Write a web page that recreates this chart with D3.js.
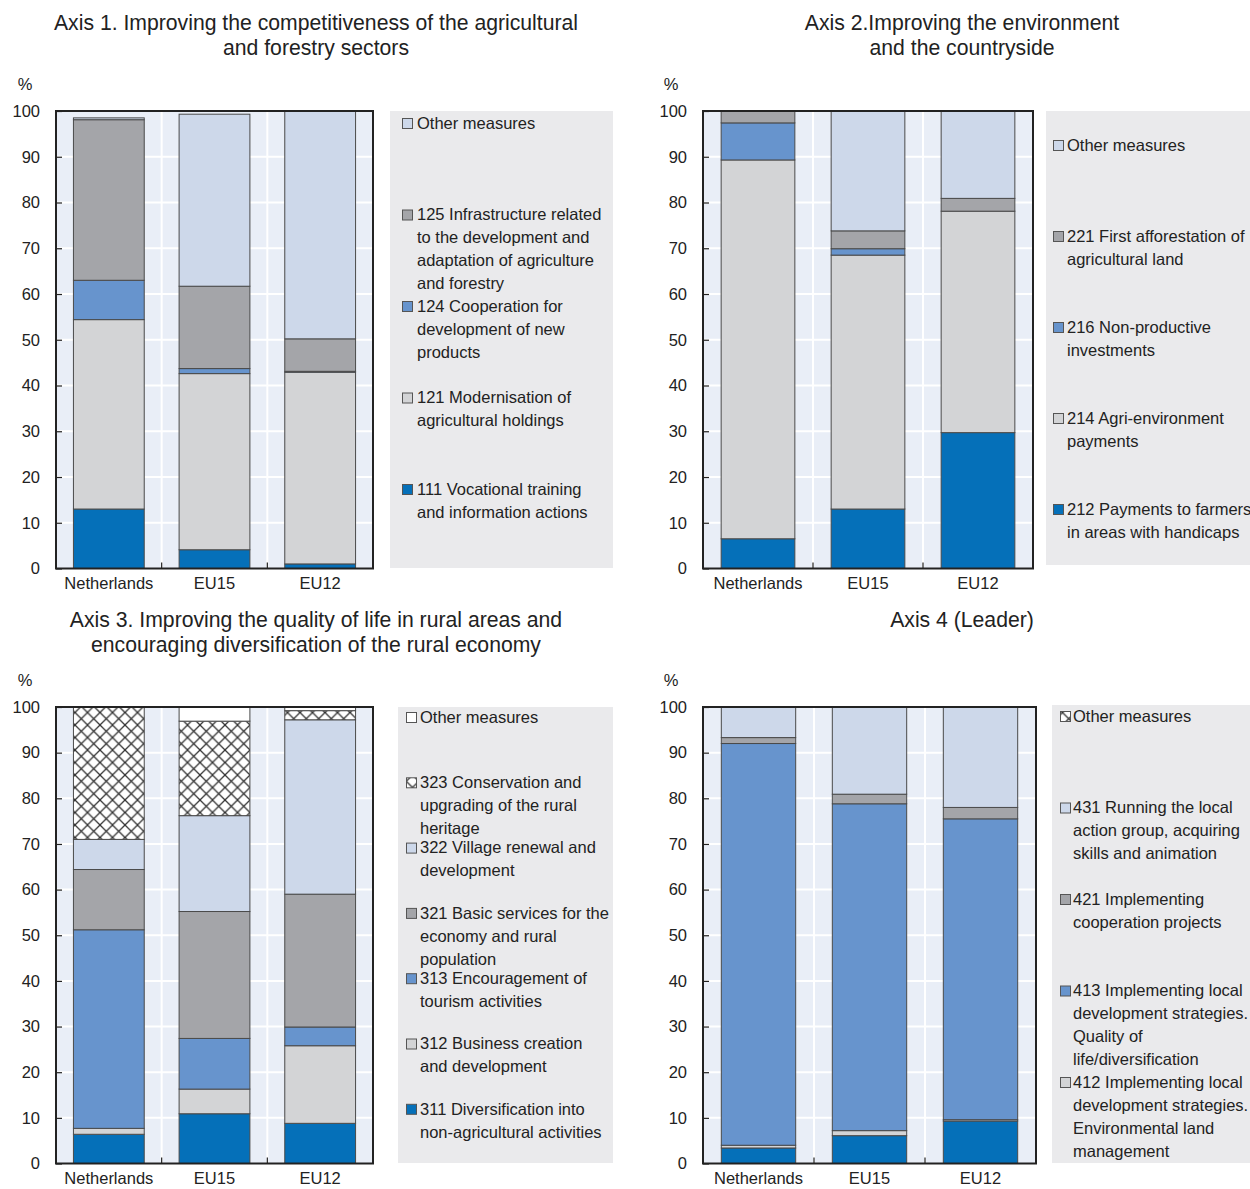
<!DOCTYPE html>
<html><head><meta charset="utf-8">
<script src="https://cdn.jsdelivr.net/npm/d3@7"></script>
<style>
html,body{margin:0;padding:0;background:#fff;}
svg{display:block;font-family:"Liberation Sans",Arial,sans-serif;}
</style></head>
<body>
<svg id="chart" width="1250" height="1189"></svg>
<script>
// ---------- DATA ----------
const categories = ["Netherlands", "EU15", "EU12"];
const yTicks = [0, 10, 20, 30, 40, 50, 60, 70, 80, 90, 100];

// Axis 1 (stack order bottom -> top)
const axis1Names = ["111 Vocational training and information actions", "121 Modernisation of agricultural holdings",
  "124 Cooperation for development of new products", "125 Infrastructure related to the development and adaptation of agriculture and forestry", "Other measures"];
const axis1Values = [
  [13.0, 4.1, 1.0],
  [41.4, 38.5, 41.9],
  [8.6, 1.1, 0.2],
  [35.1, 18.0, 7.1],
  [0.4, 37.6, 49.8]
];

// Axis 2
const axis2Names = ["212 Payments to farmers in areas with handicaps", "214 Agri-environment payments",
  "216 Non-productive investments", "221 First afforestation of agricultural land", "Other measures"];
const axis2Values = [
  [6.5, 13.0, 29.7],
  [82.8, 55.5, 48.4],
  [8.1, 1.4, 0.0],
  [2.6, 3.9, 2.8],
  [0.0, 26.2, 19.1]
];

// Axis 3
const axis3Names = ["311 Diversification into non-agricultural activities", "312 Business creation and development",
  "313 Encouragement of tourism activities", "321 Basic services for the economy and rural population",
  "322 Village renewal and development", "323 Conservation and upgrading of the rural heritage", "Other measures"];
const axis3Values = [
  [6.4, 10.9, 8.8],
  [1.3, 5.4, 17.0],
  [43.5, 11.1, 4.1],
  [13.2, 27.8, 29.1],
  [6.6, 21.0, 38.2],
  [29.0, 20.7, 2.0],
  [0.0, 3.1, 0.8]
];

// Axis 4 (Leader)
const axis4Names = ["411 Implementing local development strategies. Competitiveness", "412 Implementing local development strategies. Environmental land management",
  "413 Implementing local development strategies. Quality of life/diversification", "421 Implementing cooperation projects",
  "431 Running the local action group, acquiring skills and animation", "Other measures"];
const axis4Values = [
  [3.4, 6.1, 9.3],
  [0.6, 1.1, 0.3],
  [88.0, 71.6, 65.9],
  [1.3, 2.1, 2.5],
  [6.7, 19.1, 22.0],
  [0.0, 0.0, 0.0]
];

// Titles and legend text (as printed)
const titles = [
  ["Axis 1. Improving the competitiveness of the agricultural", "and forestry sectors"],
  ["Axis 2.Improving the environment", "and the countryside"],
  ["Axis 3. Improving the quality of life in rural areas and", "encouraging diversification of the rural economy"],
  ["Axis 4 (Leader)"]
];
const legend1 = [
  {s: 4, lines: ["Other measures"]},
  {s: 3, lines: ["125 Infrastructure related", "to the development and", "adaptation of agriculture", "and forestry"]},
  {s: 2, lines: ["124 Cooperation for", "development of new", "products"]},
  {s: 1, lines: ["121 Modernisation of", "agricultural holdings"]},
  {s: 0, lines: ["111 Vocational training", "and information actions"]}
];
const legend2 = [
  {s: 4, lines: ["Other measures"]},
  {s: 3, lines: ["221 First afforestation of", "agricultural land"]},
  {s: 2, lines: ["216 Non-productive", "investments"]},
  {s: 1, lines: ["214 Agri-environment", "payments"]},
  {s: 0, lines: ["212 Payments to farmers", "in areas with handicaps"]}
];
const legend3 = [
  {s: 6, lines: ["Other measures"]},
  {s: 5, lines: ["323 Conservation and", "upgrading of the rural", "heritage"]},
  {s: 4, lines: ["322 Village renewal and", "development"]},
  {s: 3, lines: ["321 Basic services for the", "economy and rural", "population"]},
  {s: 2, lines: ["313 Encouragement of", "tourism activities"]},
  {s: 1, lines: ["312 Business creation", "and development"]},
  {s: 0, lines: ["311 Diversification into", "non-agricultural activities"]}
];
const legend4 = [
  {s: 5, lines: ["Other measures"]},
  {s: 4, lines: ["431 Running the local", "action group, acquiring", "skills and animation"]},
  {s: 3, lines: ["421 Implementing", "cooperation projects"]},
  {s: 2, lines: ["413 Implementing local", "development strategies.", "Quality of", "life/diversification"]},
  {s: 1, lines: ["412 Implementing local", "development strategies.", "Environmental land", "management"]}
];

// ---------- STYLE ----------
const C = {
  dblue: "#0570b9", mblue: "#6794cd", lgrey: "#d3d4d6", dgrey: "#a4a5a9",
  pblue: "#cdd8ea", white: "#ffffff", hatch: "url(#hatch)",
  plotBg: "#e9eef7", legBg: "#eaeaec", text: "#222"
};
const fills1 = [C.dblue, C.lgrey, C.mblue, C.dgrey, C.pblue];
const fills2 = [C.dblue, C.lgrey, C.mblue, C.dgrey, C.pblue];
const fills3 = [C.dblue, C.lgrey, C.mblue, C.dgrey, C.pblue, C.hatch, C.white];
const fills4 = [C.dblue, C.lgrey, C.mblue, C.dgrey, C.pblue, C.hatch];

const svg = d3.select("#chart");
const defs = svg.append("defs");
const pat = defs.append("pattern").attr("id", "hatch").attr("patternUnits", "userSpaceOnUse")
  .attr("width", 12.5).attr("height", 12.5);
pat.append("rect").attr("width", 12.5).attr("height", 12.5).attr("fill", "#fff");
pat.append("path").attr("d", "M0,0L12.5,12.5M12.5,0L0,12.5M-1,11.5L1,13.5M11.5,-1L13.5,1")
  .attr("stroke", "#333").attr("stroke-width", 1.3);

const panels = [
  {names: axis1Names, values: axis1Values, fills: fills1, legend: legend1, title: titles[0],
   x0: 56, x1: 373, yTop: 111, yBot: 568.5, titleX: 316, titleY: 23, pctX: 25, pctY: 84,
   leg: {x: 390, y: 111, w: 223, h: 457, first: 123, step: 91.5, sq: 402, tx: 417}},
  {names: axis2Names, values: axis2Values, fills: fills2, legend: legend2, title: titles[1],
   x0: 703, x1: 1033, yTop: 111, yBot: 568.5, titleX: 962, titleY: 23, pctX: 671, pctY: 84,
   leg: {x: 1046, y: 111, w: 204, h: 454, first: 145, step: 91, sq: 1053, tx: 1067}},
  {names: axis3Names, values: axis3Values, fills: fills3, legend: legend3, title: titles[2],
   x0: 56, x1: 373, yTop: 707, yBot: 1163.5, titleX: 316, titleY: 620, pctX: 25, pctY: 680,
   leg: {x: 398, y: 707, w: 215, h: 456, first: 717, step: 65.3, sq: 406, tx: 420}},
  {names: axis4Names, values: axis4Values, fills: fills4, legend: legend4, title: titles[3],
   x0: 703, x1: 1036, yTop: 707, yBot: 1163.5, titleX: 962, titleY: 620, pctX: 671, pctY: 680,
   leg: {x: 1052, y: 705, w: 198, h: 458, first: 716, step: 91.5, sq: 1060, tx: 1073}}
];

panels.forEach(p => {
  const g = svg.append("g");
  // title
  p.title.forEach((t, i) => {
    g.append("text").attr("x", p.titleX).attr("y", p.titleY + i * 25).attr("dy", "0.35em")
      .attr("text-anchor", "middle").attr("font-size", 21.2).attr("fill", C.text).text(t);
  });
  g.append("text").attr("x", p.pctX).attr("y", p.pctY).attr("dy", "0.35em").attr("text-anchor", "middle")
    .attr("font-size", 16.5).attr("fill", C.text).text("%");

  const x = d3.scaleBand().domain(categories).range([p.x0, p.x1]).paddingInner(0.33).paddingOuter(0.165);
  const y = d3.scaleLinear().domain([0, 100]).range([p.yBot, p.yTop]);

  // background
  g.append("rect").attr("x", p.x0).attr("y", p.yTop).attr("width", p.x1 - p.x0).attr("height", p.yBot - p.yTop)
    .attr("fill", C.plotBg);
  // horizontal gridlines
  g.selectAll(".hg").data(yTicks.filter(v => v > 0 && v < 100)).join("line")
    .attr("x1", p.x0).attr("x2", p.x1).attr("y1", d => y(d)).attr("y2", d => y(d))
    .attr("stroke", "#fff").attr("stroke-width", 2);
  // vertical gridlines at band boundaries
  const bounds = categories.slice(1).map(c => x(c) - x.step() * x.paddingInner() / 2);
  g.selectAll(".vg").data(bounds).join("line")
    .attr("x1", d => d).attr("x2", d => d).attr("y1", p.yTop).attr("y2", p.yBot)
    .attr("stroke", "#fff").attr("stroke-width", 2);

  // stacked bars
  const rows = categories.map((c, ci) => {
    const o = {cat: c};
    p.names.forEach((n, si) => { o[si] = p.values[si][ci]; });
    return o;
  });
  const keys = p.names.map((n, i) => i);
  const stacked = d3.stack().keys(keys)(rows);
  stacked.forEach((layer, si) => {
    g.append("g").selectAll("rect").data(layer.filter(d => d[1] - d[0] > 0)).join("rect")
      .attr("x", d => x(d.data.cat)).attr("width", x.bandwidth())
      .attr("y", d => y(d[1])).attr("height", d => y(d[0]) - y(d[1]))
      .attr("fill", p.fills[si]).attr("stroke", "#4a4a4a").attr("stroke-width", 1);
  });

  // y axis (inward ticks, labels)
  const ya = g.append("g").attr("transform", `translate(${p.x0},0)`)
    .call(d3.axisLeft(y).tickValues(yTicks).tickSize(-6).tickPadding(16).tickFormat(d3.format("d")));
  ya.select(".domain").remove();
  ya.selectAll("line").attr("stroke", "#222").attr("stroke-width", 1.2);
  ya.selectAll("text").attr("font-size", 16.5).attr("font-family", "Liberation Sans, Arial, sans-serif").attr("fill", C.text);

  // x axis labels
  const xa = g.append("g").attr("transform", `translate(0,${p.yBot})`)
    .call(d3.axisBottom(x).tickSize(0).tickPadding(9));
  xa.select(".domain").remove();
  xa.selectAll("text").attr("font-size", 16.5).attr("font-family", "Liberation Sans, Arial, sans-serif").attr("fill", C.text);
  // boundary ticks on baseline
  g.selectAll(".bt").data(bounds).join("line")
    .attr("x1", d => d).attr("x2", d => d).attr("y1", p.yBot).attr("y2", p.yBot - 6)
    .attr("stroke", "#222").attr("stroke-width", 1.2);

  // frame
  g.append("rect").attr("x", p.x0).attr("y", p.yTop).attr("width", p.x1 - p.x0).attr("height", p.yBot - p.yTop)
    .attr("fill", "none").attr("stroke", "#222").attr("stroke-width", 2);

  // legend
  const L = p.leg;
  g.append("rect").attr("x", L.x).attr("y", L.y).attr("width", L.w).attr("height", L.h).attr("fill", C.legBg);
  p.legend.forEach((item, i) => {
    const cy = L.first + i * L.step;
    g.append("rect").attr("x", L.sq + 0.5).attr("y", cy - 4.5).attr("width", 10).attr("height", 10)
      .attr("fill", p.fills[item.s]).attr("stroke", "#555").attr("stroke-width", 1);
    item.lines.forEach((ln, j) => {
      g.append("text").attr("x", L.tx).attr("y", cy + j * 23).attr("dy", "0.35em")
        .attr("font-size", 16.5).attr("fill", C.text).text(ln);
    });
  });
});
</script>
</body></html>
